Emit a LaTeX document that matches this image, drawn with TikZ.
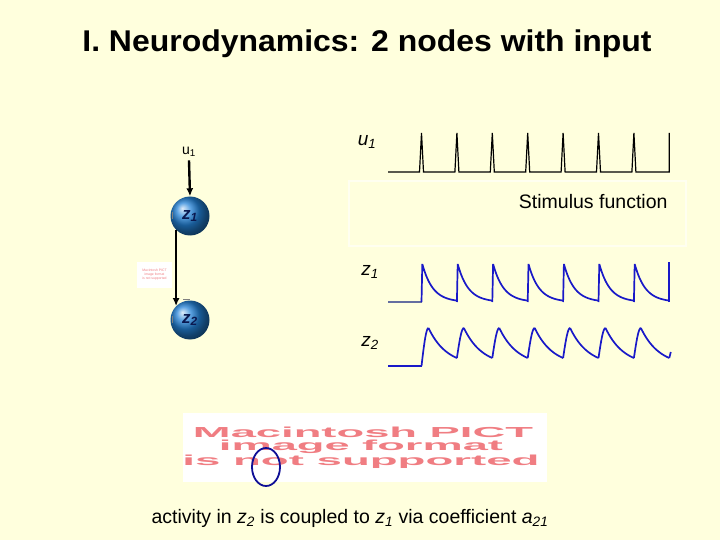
\documentclass[tikz,border=0pt]{standalone}
\usepackage{fontspec}
\setmainfont{Liberation Sans}
\usetikzlibrary{arrows.meta, shapes.geometric, positioning}

\definecolor{slidebg}{RGB}{255,255,221}
\definecolor{ballblue}{RGB}{35,130,215}
\definecolor{labelnavy}{RGB}{10,25,80}
\definecolor{traceblue}{RGB}{25,25,200}
\definecolor{tracegray}{RGB}{100,110,160}
\definecolor{pictpink}{RGB}{240,125,130}
\definecolor{ringblue}{RGB}{15,15,150}

\tikzset{
    neuron/.style={circle, minimum size=39pt, inner sep=0pt, shading=ball, ball color=ballblue,
        font=\bfseries\itshape\fontsize{17}{17}\selectfont, text=labelnavy},
    link/.style={-{Latex[length=8pt,width=7pt]}, line width=2.4pt, black},
    spike/.style={line width=1.2pt, black},
    trace/.style={line width=1.7pt, traceblue, line join=round},
    tracelabel/.style={font=\itshape\fontsize{19}{19}\selectfont},
    pictbox/.style={fill=white, draw=none}
}

\begin{document}
\begin{tikzpicture}[x=1pt, y=-1pt]
    \useasboundingbox[fill=slidebg] (0,0) rectangle (720,540);
    \def\tzero{421.5} % first stimulus
    \def\period{35.4} % stimulus period
    % title
    \node[font=\bfseries\fontsize{30}{30}\selectfont] (title) at (367,44) {\scalebox{1.065}[1]{I. Neurodynamics: 2 nodes with input}};
    % network
    \node[font=\fontsize{14}{14}\selectfont] (uin) at (189,152) {u\textsubscript{1}};
    \node[neuron] (z1) at (190,216) {z\textsubscript{1}};
    \node[neuron] (z2) at (190,320) {z\textsubscript{2}};
    \draw[link] (uin.south) -- (z1.north);
    \draw[link] (z1.225) -- (z2.135);
    \draw[line width=0.6pt, gray] (172,212) -- (172,219) (172,316) -- (172,323) (183,299) -- (190,299);
    \node[pictbox, minimum width=35pt, minimum height=26pt, inner sep=0pt, align=center,
          text=pictpink, font=\fontsize{3.4}{4}\selectfont] (pictsmall) at (154.5,275)
          {Macintosh PICT\\image format\\is not supported};
    % stimulus u1
    \node[tracelabel] (ulabel) at (367,142) {u\textsubscript{1}};
    \draw[spike] (388,172) \foreach \k in {0,...,6}{
        -- ({\tzero+\k*\period-2},172) -- ({\tzero+\k*\period},133) -- ({\tzero+\k*\period+2},172)}
        -- ({\tzero+7*\period},172) -- ({\tzero+7*\period},133);
    \draw[white!55!slidebg, line width=2.5pt] (349,181) rectangle (686,246);
    \node[anchor=east, font=\fontsize{19.5}{19.5}\selectfont] (stim) at (671,202) {Stimulus function};
    % response z1
    \node[tracelabel] (z1label) at (370,272) {z\textsubscript{1}};
    \draw[trace, tracegray] (388,302) -- (\tzero,302);
    \foreach \k in {0,...,6}{
        \pgfmathsetmacro{\xk}{\tzero+\k*\period}
        \draw[trace] (\xk,302) -- (\xk+0.8,264)
            plot[smooth, samples=30, domain=0.8:\period, variable=\t] ({\xk+\t}, {302-38*exp(-(\t-0.8)/10.5)});
    }
    \draw[trace] ({\tzero+7*\period},302) -- ({\tzero+7*\period},262);
    % response z2
    \node[tracelabel] (z2label) at (370,343) {z\textsubscript{2}};
    \draw[trace] (388,366) -- (\tzero,366);
    \foreach \k in {0,...,6}{
        \pgfmathsetmacro{\xk}{\tzero+\k*\period}
        \pgfmathsetmacro{\vstart}{\k==0 ? 0 : 8}
        \draw[trace] plot[smooth, samples=12, domain=0:7, variable=\t] ({\xk+\t}, {366-\vstart-(38-\vstart)*sin(90*\t/7)})
            plot[smooth, samples=30, domain=7:\period, variable=\t] ({\xk+\t}, {366-38*exp(-(\t-7)/18.2)});
    }
    \draw[trace] ({\tzero+7*\period},358) -- ({\tzero+7*\period+1.5},352);
    % unsupported picture
    \node[pictbox, minimum width=364pt, minimum height=69pt] (pict) at (365,447) {};
    \node[text=pictpink, inner sep=0pt] (pict1) at (363,432) {\resizebox{340pt}{10.5pt}{\bfseries Macintosh PICT}};
    \node[text=pictpink, inner sep=0pt] (pict2) at (361,447) {\resizebox{284pt}{10.5pt}{\bfseries image format}};
    \node[text=pictpink, inner sep=0pt] (pict3) at (361,462) {\resizebox{357pt}{10.5pt}{\bfseries is not supported}};
    \node[ellipse, draw=ringblue, line width=1.8pt, minimum width=28pt, minimum height=38pt, inner sep=0pt] (ring) at (266,467) {};
    % caption
    \node[font=\fontsize{19.5}{19.5}\selectfont] (caption) at (350,518)
        {activity in \textit{z}\textsubscript{\textit{2}} is coupled to \textit{z}\textsubscript{\textit{1}} via coefficient \textit{a}\textsubscript{\textit{21}}};
\end{tikzpicture}
\end{document}
